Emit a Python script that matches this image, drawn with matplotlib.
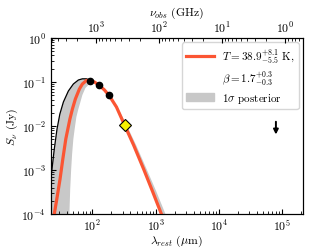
import numpy as np
import matplotlib
matplotlib.use("Agg")
import matplotlib.pyplot as plt
from matplotlib.lines import Line2D
from matplotlib.patches import Patch

plt.rcParams['font.family'] = 'serif'
plt.rcParams['font.serif'] = ['cmr10']
plt.rcParams['mathtext.fontset'] = 'cm'
plt.rcParams['axes.formatter.use_mathtext'] = True

opz = 2.65  # 1+z
c_ghz_um = 299792.458

# photometry (rest-frame wavelength in um, flux in Jy)
lam_pts = [93, 129, 186]
s_pts = [0.105, 0.085, 0.050]
lam_sub = [322]
s_sub = [0.0105]
lam_lim = [8.0e4]
s_lim_top = [0.0125]
s_lim_bot = [0.0064]

# best fit
lam_fit = [23.2, 24.9, 27.3, 30.7, 34.0, 37.9, 44.0, 48.2, 53.7, 62.2, 69.3,
           80.3, 92.9, 107.6, 129.2, 155, 186, 240, 322, 448, 646, 896, 1199, 1442]
s_fit = [5.9e-5, 1.0e-4, 2.19e-4, 6.2e-4, 1.78e-3, 5.07e-3, 0.0144, 0.0243,
         0.0411, 0.0693, 0.090, 0.108, 0.108, 0.100, 0.083, 0.0658, 0.048,
         0.027, 0.01054, 3.7e-3, 1.05e-3, 3.24e-4, 1.11e-4, 5.6e-5]

# thin black curve
lam_blk = [20.7, 22.9, 24.9, 27.5, 30.5, 34.7, 41.6, 49.9, 59.9, 69.3, 80.3, 92.9, 111.6]
s_blk = [3.7e-4, 1.05e-3, 3.0e-3, 8.5e-3, 0.0187, 0.0351, 0.0624, 0.090, 0.111,
         0.118, 0.118, 0.110, 0.0974]

# 1 sigma band edges
lam_rj_out = [134, 186, 249, 347, 499, 720, 1018, 1389, 1667]
s_rj_out = [0.079, 0.0493, 0.027, 0.01054, 3.51e-3, 1.05e-3, 3.33e-4, 1.11e-4, 5.6e-5]
lam_wien_in = [89.6, 77.4, 69.3, 64.5, 59.9, 55.7, 52.3, 49.9, 47.7, 46.1, 44.5, 43.2, 42.5]
s_wien_in = [0.090, 0.073, 0.0506, 0.0351, 0.0243, 0.0160, 8.5e-3, 5.07e-3,
             2.31e-3, 1.05e-3, 3.7e-4, 1.0e-4, 2.7e-5]

red = '#fb5533'
band = '#c8c8c8'

fig = plt.figure(figsize=(3.16, 2.53), dpi=100)
ax = fig.add_axes([0.161, 0.150, 0.798, 0.696])

band_x = [18] + lam_blk + lam_rj_out + lam_fit[::-1][:11] + lam_wien_in + [42.5]
band_y = [1e-5] + s_blk + s_rj_out + s_fit[::-1][:11] + s_wien_in + [1e-5]
ax.fill(band_x, band_y, color=band, lw=0, zorder=1)
ax.plot(lam_blk, s_blk, color='k', lw=0.9, zorder=2)
ax.plot(lam_fit, s_fit, color=red, lw=2.3, zorder=3)
ax.plot(lam_pts, s_pts, 'o', color='k', ms=4.5, zorder=4)
ax.plot(lam_sub, s_sub, 'D', mfc='#f7f000', mec='k', ms=6.5, mew=0.8, zorder=5)
for x, yt, yb in zip(lam_lim, s_lim_top, s_lim_bot):
    ax.annotate('', xy=(x, yb), xytext=(x, yt),
                arrowprops=dict(arrowstyle='-|>', color='k', lw=1.4,
                                mutation_scale=7, shrinkA=0, shrinkB=0))

ax.set_xscale('log')
ax.set_yscale('log')
ax.set_xlim(22, 2.15e5)
ax.set_ylim(1e-4, 1)
ax.set_xlabel(r'$\lambda_{rest}$ ($\mu$m)', fontsize=8.5, labelpad=0)
ax.set_ylabel(r'$S_\nu$ (Jy)', fontsize=8.5, labelpad=1)
ax.tick_params(which='both', direction='in', labelsize=8.5)
ax.tick_params(axis='x', pad=2.5)
ax.tick_params(which='major', length=3.5)
ax.tick_params(which='minor', length=2)

ax2 = ax.twiny()
ax2.set_xscale('log')
x0, x1 = ax.get_xlim()
ax2.set_xlim(c_ghz_um / (x0 * opz), c_ghz_um / (x1 * opz))
ax2.set_xlabel(r'$\nu_{obs}$ (GHz)', fontsize=8.5, labelpad=4)
ax2.tick_params(which='both', direction='in', labelsize=8.5, pad=2)
ax2.tick_params(which='major', length=3.5)
ax2.tick_params(which='minor', length=2)

handles = [Line2D([], [], color=red, lw=2.3),
           Line2D([], [], color='none'),
           Patch(facecolor=band, edgecolor=band)]
labels = [r'$T = 38.9^{+8.1}_{-5.5}$ K,', r'$\beta = 1.7^{+0.3}_{-0.3}$',
          r'$1\sigma$ posterior']
ax.legend(handles, labels, loc='upper right', fontsize=8, handlelength=2.5,
          handletextpad=0.7, borderaxespad=0.4, labelspacing=0.3)

plt.savefig('out.png', dpi=100)
